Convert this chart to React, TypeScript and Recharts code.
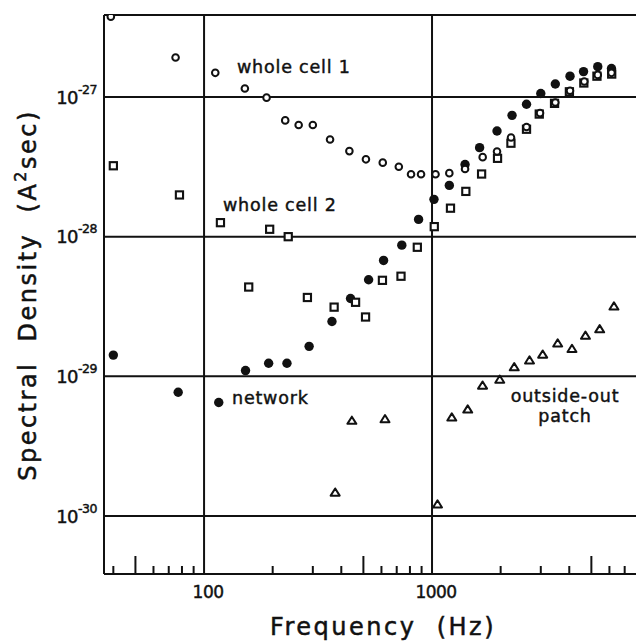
import React from "react";
import { ReferenceLine, Scatter, ScatterChart, XAxis, YAxis } from "recharts";

const FONT = "'DejaVu Sans', sans-serif";
const INK = "#111";

// whole cell 1 (open circles)
const CELL1_FREQ = [39, 75, 112, 151, 188, 227, 260, 300, 357, 434, 513, 608, 715, 809, 895, 1036, 1191, 1396, 1668, 1928, 2221, 2597, 2977, 3474, 4030, 4656, 5333, 6126];
const CELL1_SD = [3.76e-27, 1.92e-27, 1.49e-27, 1.15e-27, 9.9e-28, 6.8e-28, 6.3e-28, 6.3e-28, 4.97e-28, 4.1e-28, 3.58e-28, 3.39e-28, 3.17e-28, 2.8e-28, 2.8e-28, 2.8e-28, 2.85e-28, 3.05e-28, 3.71e-28, 4.07e-28, 5.13e-28, 6.1e-28, 7.67e-28, 9.13e-28, 1.11e-27, 1.29e-27, 1.44e-27, 1.49e-27];

// whole cell 2 (open squares)
const CELL2_FREQ = [40, 78, 118, 157, 194, 234, 284, 372, 462, 511, 606, 731, 862, 1023, 1205, 1407, 1650, 1938, 2219, 2597, 2954, 3447, 4005, 4633, 5290, 6140];
const CELL2_SD = [3.22e-28, 1.99e-28, 1.26e-28, 4.36e-29, 1.13e-28, 1.0e-28, 3.67e-29, 3.13e-29, 3.39e-29, 2.66e-29, 4.87e-29, 5.21e-29, 8.4e-29, 1.18e-28, 1.6e-28, 2.11e-28, 2.81e-28, 3.64e-28, 4.67e-28, 5.88e-28, 7.55e-28, 9.01e-28, 1.09e-27, 1.26e-27, 1.41e-27, 1.46e-27];

// network (filled circles)
const NET_FREQ = [40, 77, 116, 152, 192, 231, 289, 364, 439, 527, 613, 737, 873, 1020, 1191, 1396, 1617, 1928, 2244, 2597, 2999, 3474, 4030, 4620, 5333, 6126];
const NET_SD = [1.42e-29, 7.7e-30, 6.5e-30, 1.1e-29, 1.24e-29, 1.24e-29, 1.64e-29, 2.47e-29, 3.61e-29, 4.92e-29, 6.76e-29, 8.7e-29, 1.33e-28, 1.85e-28, 2.33e-28, 3.29e-28, 4.34e-28, 5.71e-28, 7.39e-28, 8.88e-28, 1.06e-27, 1.24e-27, 1.41e-27, 1.52e-27, 1.65e-27, 1.6e-27];

// outside-out patch (open triangles)
const PATCH_FREQ = [376, 445, 622, 1057, 1221, 1434, 1666, 1982, 2294, 2677, 3058, 3558, 4111, 4710, 5438, 6281];
const PATCH_SD = [1.47e-30, 4.8e-30, 4.93e-30, 1.21e-30, 5.07e-30, 5.78e-30, 8.58e-30, 9.46e-30, 1.16e-29, 1.3e-29, 1.43e-29, 1.72e-29, 1.57e-29, 1.95e-29, 2.17e-29, 3.16e-29];

const X_MINOR = [40, 60, 70, 80, 90, 200, 300, 400, 600, 700, 800, 900, 2000, 3000, 4000, 6000, 7000];
const X_MID = [50, 500, 5000];
const X_LABELED = [100, 1000];
const Y_DECADES = [1e-27, 1e-28, 1e-29, 1e-30];

const X_DOMAIN = [36.4, 7848];
const Y_DOMAIN = [3.844e-31, 3.866e-27];

const toPoints = (xs: number[], ys: number[]) => xs.map((x, i) => ({ x, y: ys[i] }));

// a thin outline makes DejaVu look closer to the heavy print face
const heavy = { stroke: INK, strokeWidth: 0.45 };

function XTick({ x, y, payload }: any) {
  const v = payload.value;
  const len = X_MID.includes(v) ? 18 : X_MINOR.includes(v) ? 8 : 0;
  return (
    <g>
      {len > 0 && <line x1={x} x2={x} y1={y} y2={y - len} stroke={INK} strokeWidth={2} />}
      {X_LABELED.includes(v) && (
        <text x={x + 4} y={y + 24} textAnchor="middle" fontSize={17} fontFamily={FONT} fill={INK} letterSpacing={-0.5} {...heavy}>
          {v}
        </text>
      )}
    </g>
  );
}

function YTick({ x, y, payload }: any) {
  const exp = Math.round(Math.log10(payload.value));
  return (
    <text x={x - 7} y={y + 6.5} textAnchor="end" fontSize={18} fontFamily={FONT} fill={INK} letterSpacing={-0.5} {...heavy}>
      10
      <tspan dy={-10} fontSize={12.5}>{exp}</tspan>
    </text>
  );
}

const OpenCircle = ({ cx, cy }: any) => <circle cx={cx} cy={cy} r={3.3} fill="#fff" stroke={INK} strokeWidth={2} />;
const Dot = ({ cx, cy }: any) => <circle cx={cx} cy={cy} r={4.7} fill={INK} />;
const Square = ({ cx, cy }: any) => (
  <rect x={cx - 3.6} y={cy - 3.6} width={7.2} height={7.2} fill="#fff" stroke={INK} strokeWidth={2.1} />
);
const Triangle = ({ cx, cy }: any) => (
  <path
    d={`M${cx},${cy - 4.2} L${cx + 4.5},${cy + 3} L${cx - 4.5},${cy + 3} Z`}
    fill="#fff"
    stroke={INK}
    strokeWidth={2}
    strokeLinejoin="round"
  />
);

export default function App() {
  const label = { fontFamily: FONT, fill: INK, fontSize: 17.5, letterSpacing: 0.8, ...heavy };
  const title = { fontFamily: FONT, fill: INK, fontSize: 24, letterSpacing: 2.5, whiteSpace: "pre" as const, stroke: INK, strokeWidth: 0.5 };
  return (
    <div style={{ position: "absolute", left: 0, top: 0, width: 636, height: 644, background: "#fff", overflow: "hidden" }}>
      <ScatterChart width={636} height={644} margin={{ top: 15, right: 0, left: 0, bottom: 0 }}>
        <XAxis
          type="number"
          dataKey="x"
          scale="log"
          domain={X_DOMAIN}
          allowDataOverflow
          ticks={[...X_MINOR, ...X_MID, ...X_LABELED]}
          interval={0}
          height={70}
          tickSize={0}
          tickMargin={0}
          tickLine={false}
          tick={<XTick />}
          axisLine={{ stroke: INK, strokeWidth: 2 }}
        />
        <YAxis
          type="number"
          dataKey="y"
          scale="log"
          domain={Y_DOMAIN}
          allowDataOverflow
          ticks={Y_DECADES}
          interval={0}
          width={104}
          tickSize={0}
          tickMargin={0}
          tickLine={false}
          tick={<YTick />}
          axisLine={{ stroke: INK, strokeWidth: 2 }}
        />
        {X_LABELED.map((v) => (
          <ReferenceLine key={`vx${v}`} x={v} stroke={INK} strokeWidth={2} />
        ))}
        {Y_DECADES.map((v) => (
          <ReferenceLine key={`hy${v}`} y={v} stroke={INK} strokeWidth={2} />
        ))}
        <ReferenceLine y={Y_DOMAIN[1]} stroke={INK} strokeWidth={2} />
        <Scatter data={toPoints(NET_FREQ, NET_SD)} shape={Dot} isAnimationActive={false} />
        <Scatter data={toPoints(CELL2_FREQ, CELL2_SD)} shape={Square} isAnimationActive={false} />
        <Scatter data={toPoints(CELL1_FREQ, CELL1_SD)} shape={OpenCircle} isAnimationActive={false} />
        <Scatter data={toPoints(PATCH_FREQ, PATCH_SD)} shape={Triangle} isAnimationActive={false} />
      </ScatterChart>
      <svg width={636} height={644} style={{ position: "absolute", left: 0, top: 0, pointerEvents: "none" }}>
        <text x={237} y={73} {...label}>whole cell 1</text>
        <text x={223} y={211} {...label}>whole cell 2</text>
        <text x={232} y={404} {...label}>network</text>
        <text x={565} y={401.5} textAnchor="middle" {...label}>outside-out</text>
        <text x={565} y={421.5} textAnchor="middle" {...label}>patch</text>
        <text x={383} y={635} textAnchor="middle" style={title}>Frequency  (Hz)</text>
        <text x={36} y={295} textAnchor="middle" transform="rotate(-90 36 295)" style={title}>
          Spectral  Density  (A<tspan dy={-10} fontSize={16}>2</tspan>
          <tspan dy={10}>sec)</tspan>
        </text>
      </svg>
    </div>
  );
}
